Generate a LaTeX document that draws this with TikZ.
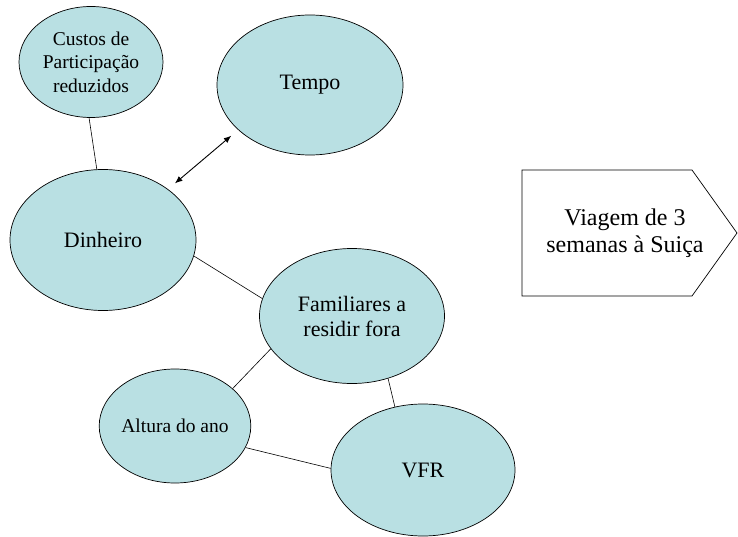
\documentclass[tikz,border=0pt]{standalone}
\usepackage{fontspec}
\setmainfont{Liberation Serif}
\usetikzlibrary{arrows.meta,shapes.geometric}
\definecolor{BubbleCyan}{RGB}{185,224,227}
\tikzset{
  bubble/.style={ellipse,draw,fill=BubbleCyan,line width=0.7pt,inner sep=0pt,align=center},
  link/.style={line width=0.6pt}
}

\begin{document}
\begin{tikzpicture}[x=1pt,y=-1pt]
\useasboundingbox (0,0) rectangle (738,537);
\node[bubble,minimum width=144pt,minimum height=111pt,font=\fontsize{19.5}{23.5}\selectfont] (custos) at (91,62) {Custos de\\Participação\\reduzidos};
\node[bubble,minimum width=186pt,minimum height=140pt,font=\fontsize{22}{26}\selectfont] (tempo) at (310,85) {Tempo};
\node[bubble,minimum width=186pt,minimum height=141pt,font=\fontsize{22}{26}\selectfont] (dinheiro) at (103,240) {Dinheiro};
\node[bubble,minimum width=185pt,minimum height=135pt,font=\fontsize{22}{25}\selectfont] (familia) at (352,316) {Familiares a\\residir fora};
\node[bubble,minimum width=144pt,minimum height=114pt,font=\fontsize{19.5}{23.5}\selectfont] (altura) at (175,426) {Altura do ano};
\node[bubble,minimum width=184pt,minimum height=132pt,font=\fontsize{22}{26}\selectfont] (vfr) at (423,470) {VFR};
% seta para a direita
\draw[line width=0.7pt] (522,170) -- (692,170) -- (737,233) -- (692,296) -- (522,296) -- cycle;
\node[align=center,font=\fontsize{24}{27}\selectfont] (viagem) at (625,233) {Viagem de 3\\semanas à Suiça};
% ligacoes
\draw[link] (custos.-92) -- (dinheiro.95);
\draw[line width=0.9pt,{Latex[length=7.5pt,width=6pt]}-{Latex[length=7.5pt,width=6pt]},shorten <=9pt,shorten >=9pt] (dinheiro.38) -- (tempo.212);
\draw[link] (dinheiro.-10) -- (familia.169);
\draw[link] (familia.-158) -- (altura.33);
\draw[link] (familia.-60) -- (vfr.114);
\draw[link] (altura.-17) -- (vfr.179);
\end{tikzpicture}
\end{document}
